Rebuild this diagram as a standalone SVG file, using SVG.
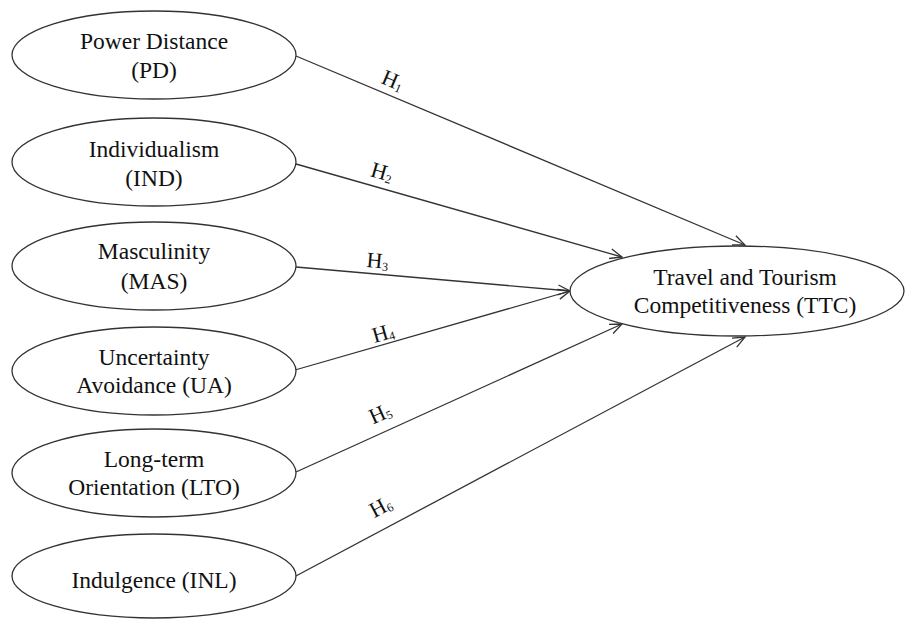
<svg xmlns="http://www.w3.org/2000/svg" width="909" height="619" viewBox="0 0 909 619">
<style>
.node ellipse{fill:#fff;stroke:#333;stroke-width:1.3}
.t{font-family:"Liberation Serif","Times New Roman",serif;font-size:23.5px;fill:#111;text-anchor:middle}
.h{font-family:"Liberation Serif","Times New Roman",serif;font-size:22px;fill:#111;text-anchor:middle}
.h tspan{font-size:12px}
.conn line{stroke:#333;stroke-width:1.3;fill:none;marker-end:url(#arr)}
</style>
<defs>
<marker id="arr" markerUnits="userSpaceOnUse" markerWidth="14" markerHeight="12" viewBox="0 0 14 12" refX="13" refY="6" orient="auto">
<path d="M1,1 L13,6 L1,11" fill="none" stroke="#333" stroke-width="1.3"/>
</marker>
</defs>
<rect width="909" height="619" fill="#fff"/>
<g id="connectors" class="conn">
<line x1="296" y1="56" x2="745" y2="245"/>
<line x1="296" y1="164" x2="622" y2="257"/>
<line x1="296" y1="267" x2="570" y2="291"/>
<line x1="295" y1="370" x2="570" y2="291"/>
<line x1="296" y1="472" x2="622" y2="324"/>
<line x1="294" y1="577" x2="745" y2="337"/>
</g>
<g id="labels">
<text class="h" transform="translate(390,87) rotate(23)">H<tspan dy="2">1</tspan></text>
<text class="h" transform="translate(380,179) rotate(16)">H<tspan dy="2">2</tspan></text>
<text class="h" transform="translate(377,268) rotate(5)">H<tspan dy="2">3</tspan></text>
<text class="h" transform="translate(385,340) rotate(-16)">H<tspan dy="2">4</tspan></text>
<text class="h" transform="translate(383,420) rotate(-24)">H<tspan dy="2">5</tspan></text>
<text class="h" transform="translate(384,513) rotate(-28)">H<tspan dy="2">6</tspan></text>
</g>
<g id="PD" class="node">
<ellipse cx="154" cy="55" rx="142" ry="44"/>
<text class="t" x="154" y="49">Power Distance</text>
<text class="t" x="154" y="78">(PD)</text>
</g>
<g id="IND" class="node">
<ellipse cx="154" cy="162" rx="142" ry="44"/>
<text class="t" x="154" y="157">Individualism</text>
<text class="t" x="154" y="186">(IND)</text>
</g>
<g id="MAS" class="node">
<ellipse cx="154" cy="266" rx="142" ry="44"/>
<text class="t" x="154" y="259">Masculinity</text>
<text class="t" x="154" y="289">(MAS)</text>
</g>
<g id="UA" class="node">
<ellipse cx="154" cy="371" rx="142" ry="44"/>
<text class="t" x="154" y="365">Uncertainty</text>
<text class="t" x="154" y="393">Avoidance (UA)</text>
</g>
<g id="LTO" class="node">
<ellipse cx="154" cy="473" rx="142" ry="44"/>
<text class="t" x="154" y="467">Long-term</text>
<text class="t" x="154" y="495">Orientation (LTO)</text>
</g>
<g id="INL" class="node">
<ellipse cx="154" cy="576" rx="142" ry="42"/>
<text class="t" x="154" y="588">Indulgence (INL)</text>
</g>
<g id="TTC" class="node">
<ellipse cx="737" cy="291" rx="167" ry="45"/>
<text class="t" x="745" y="285">Travel and Tourism</text>
<text class="t" x="745" y="313">Competitiveness (TTC)</text>
</g>
</svg>
